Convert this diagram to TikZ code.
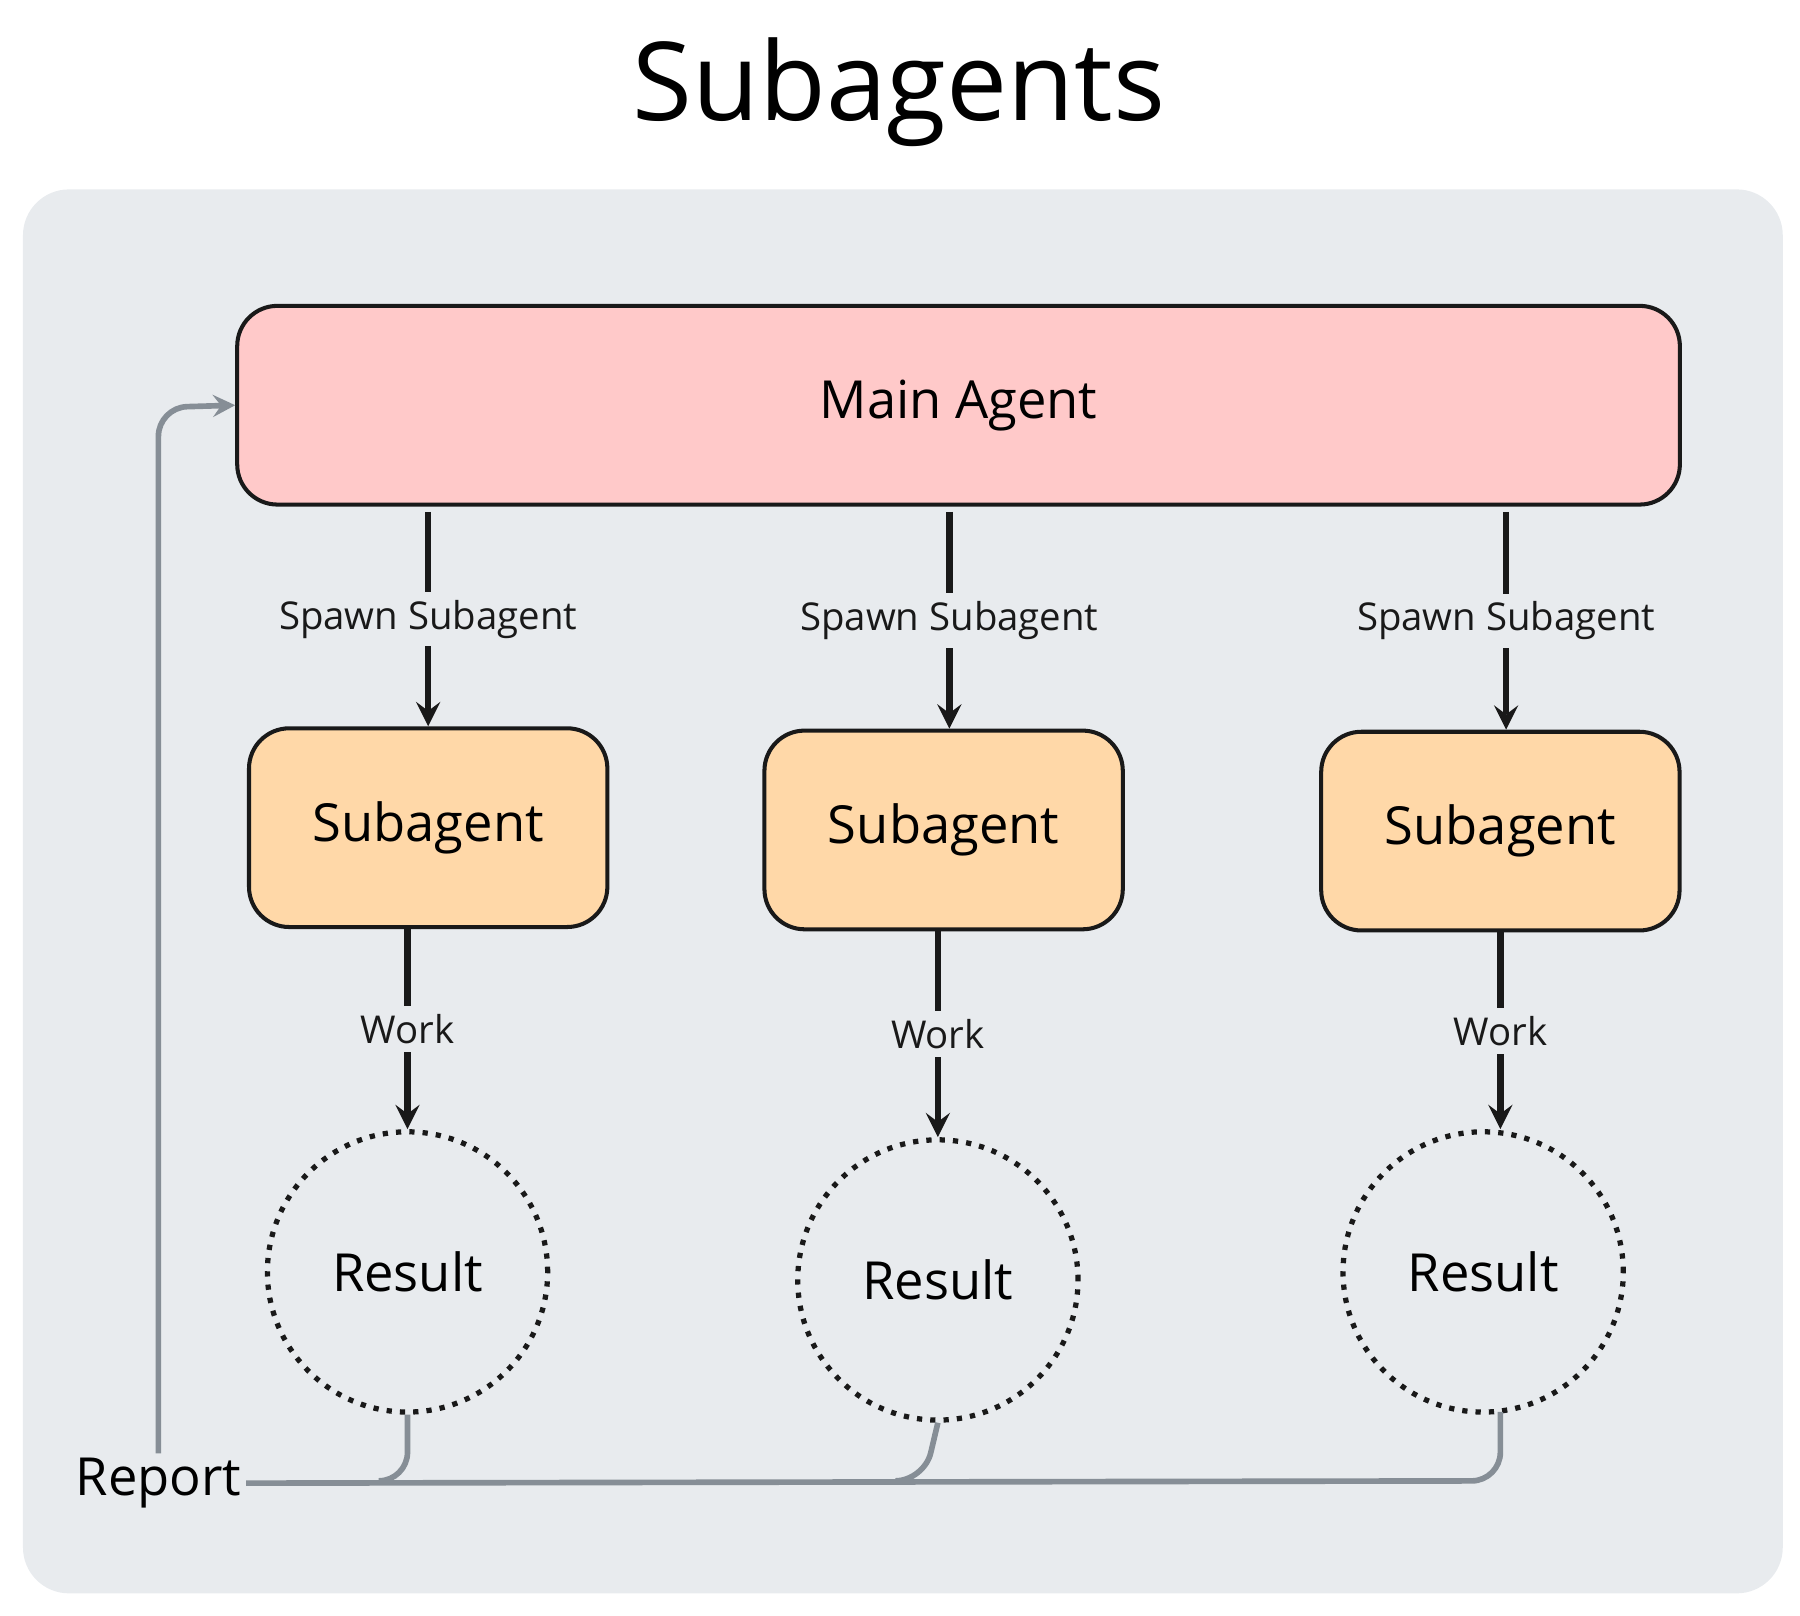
\documentclass[tikz,border=0pt]{standalone}
\usepackage{fontspec}
\setmainfont{Open Sans}
\usetikzlibrary{positioning}
\tikzset{>=stealth}
\definecolor{panel}{HTML}{E8EBEE}
\definecolor{mainfill}{HTML}{FFC9C9}
\definecolor{subfill}{HTML}{FFD8A8}
\definecolor{rep}{HTML}{868E96}
\tikzset{
  box/.style={draw=black!90, line width=1pt, rounded corners=0.35cm, align=center},
  sub/.style={box, fill=subfill, minimum width=3.12cm, minimum height=1.73cm, font=\fontsize{13}{15}\selectfont},
  res/.style={circle, draw=black!90, line width=1.3pt, dotted, minimum size=2.44cm, font=\fontsize{13}{15}\selectfont},
  flow/.style={->, line width=1.6pt, black!90},
  lbl/.style={fill=panel, inner sep=2pt, font=\fontsize{9.5}{11}\selectfont},
  back/.style={line width=1.4pt, rep, rounded corners=0.25cm}
}
\begin{document}
\begin{tikzpicture}[x=0.01cm, y=-0.01cm]
    \useasboundingbox (0,0) rectangle (1568,1407);
    \fill[panel, rounded corners=0.4cm] (20,165) rectangle (1553,1388);
    \node (title) at (783,80) {\fontsize{27}{30}\selectfont Subagents};
    \node[box, fill=mainfill, minimum width=12.56cm, minimum height=1.73cm, font=\fontsize{13}{15}\selectfont] (main) at (835,353) {Main Agent};
    \node[sub] (s1) at (373,721) {Subagent};
    \node[sub] (s2) at (822,723) {Subagent};
    \node[sub] (s3) at (1307,724) {Subagent};
    \node[res] (r1) at (355,1108) {Result};
    \node[res] (r2) at (817,1115) {Result};
    \node[res] (r3) at (1292,1108) {Result};
    \coordinate (m1) at (373,446);
    \coordinate (m2) at (827,446);
    \coordinate (m3) at (1312,446);
    \draw[flow] (m1) -- node[lbl] {Spawn Subagent} (s1.north);
    \draw[flow] (m2) -- node[lbl] {Spawn Subagent} (s2.north -| m2);
    \draw[flow] (m3) -- node[lbl] {Spawn Subagent} (s3.north -| m3);
    \draw[flow] (s1.south -| r1) -- node[lbl] {Work} (r1.north);
    \draw[flow] (s2.south -| r2) -- node[lbl] {Work} (r2.north);
    \draw[flow] (s3.south -| 1307,0) -- node[lbl] {Work} (r3.north -| 1307,0);
    % report back
    \node[font=\fontsize{13}{15}\selectfont, inner sep=1pt] (report) at (138,1292) {Report};
    \coordinate (turn) at (138,355);
    \draw[back] (report.east) -- (1307,1290) -- (1307,1230);
    \draw[back] (r1.south) -- (355,1290) -- (330,1290);
    \draw[back] (r2.south) -- (805,1290) -- (780,1290);
    \draw[back, ->] (report.north) -- (turn) -- (main.west);
\end{tikzpicture}
\end{document}
